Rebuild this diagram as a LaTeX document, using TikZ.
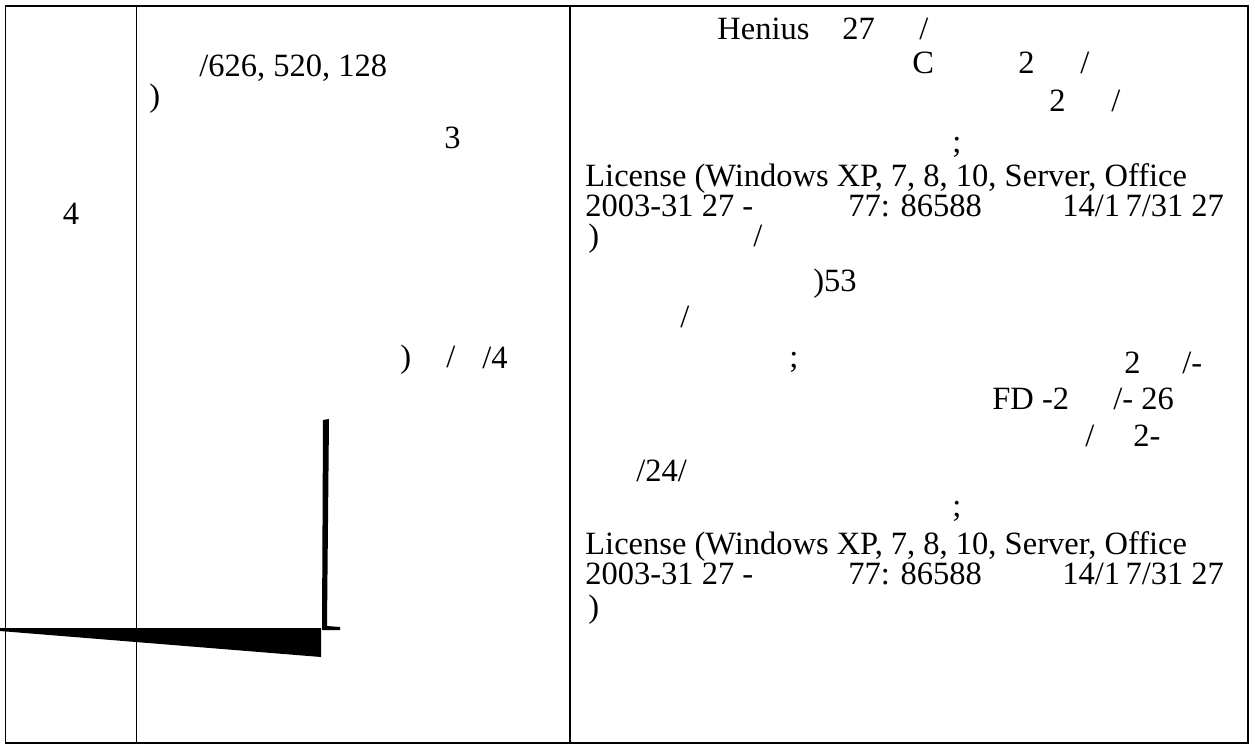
\documentclass[tikz,border=0pt]{standalone}
\usepackage{fontspec}
\setmainfont{Liberation Serif}
\usepackage{tikz}
\usetikzlibrary{positioning}
\tikzset{frag/.style = {anchor=base west, inner sep=0pt,
                        font=\fontsize{18.5}{20}\selectfont},
         rule/.style = {line width=1.1pt}}

\begin{document}
\begin{tikzpicture}[x=0.02cm, y=-0.02cm]
      \useasboundingbox (0, 0) rectangle (1255, 745);
      % table frame
      \draw [rule] (5.5, 6) rectangle (1248, 743);
      \draw [rule] (136.5, 6) -- (136.5, 743);
      \draw [rule] (570, 6) -- (570, 743);
      % first column
      \node [frag, anchor=base] (num) at (71, 224) {4};
      % second column
      \node [frag] (sizes) at (199, 76) {/626, 520, 128};
      \node [frag] (parA) at (149, 106) {)};
      \node [frag] (three) at (444, 148) {3};
      \node [frag] (parB) at (400, 367) {)};
      \node [frag] (slA) at (446, 367) {/};
      \node [frag] (slB) at (482, 368) {/4};
      % the black stroke
      \fill (323, 420) -- (329, 419) -- (327, 626) -- (340, 627)
            -- (340, 630) -- (322, 630) -- cycle;
      \fill (0, 628) -- (321, 628) -- (321, 657) -- (0, 631) -- cycle;
      % third column
      \node [frag] (henius) at (717, 39) {Henius};
      \node [frag] (hA) at (842, 39) {27};
      \node [frag] (hB) at (919, 39) {/};
      \node [frag] (cA) at (912, 73) {C};
      \node [frag] (cB) at (1018, 73) {2};
      \node [frag] (cC) at (1080, 73) {/};
      \node [frag] (dA) at (1049, 111) {2};
      \node [frag] (dB) at (1111, 111) {/};
      \node [frag] (semiA) at (952, 152) {;};
      \node [frag] (licA) at (585, 186) {License (Windows XP, 7, 8, 10, Server, Office};
      \node [frag] (yrA) at (585, 216) {2003-31 27 -};
      \node [frag] (idA) at (848, 216) {77: 86588};
      \node [frag] (dtA) at (1062, 216) {14/1\,7/31 27};
      \node [frag] (eA) at (588, 246) {)};
      \node [frag] (eB) at (753, 246) {/};
      \node [frag] (fA) at (813, 291) {)53};
      \node [frag] (gA) at (680, 327) {/};
      \node [frag] (semiB) at (789, 367) {;};
      \node [frag] (hhA) at (1124, 373) {2};
      \node [frag] (hhB) at (1182, 373) {/-};
      \node [frag] (fd) at (992, 409) {FD -2};
      \node [frag] (fdB) at (1113, 409) {/- 26};
      \node [frag] (kA) at (1085, 446) {/};
      \node [frag] (kB) at (1133, 446) {2-};
      \node [frag] (nr) at (636, 481) {/24/};
      \node [frag] (semiC) at (952, 516) {;};
      \node [frag] (licB) at (585, 554) {License (Windows XP, 7, 8, 10, Server, Office};
      \node [frag] (yrB) at (585, 584) {2003-31 27 -};
      \node [frag] (idB) at (848, 584) {77: 86588};
      \node [frag] (dtB) at (1062, 584) {14/1\,7/31 27};
      \node [frag] (eC) at (588, 617) {)};
    \end{tikzpicture}
\end{document}
